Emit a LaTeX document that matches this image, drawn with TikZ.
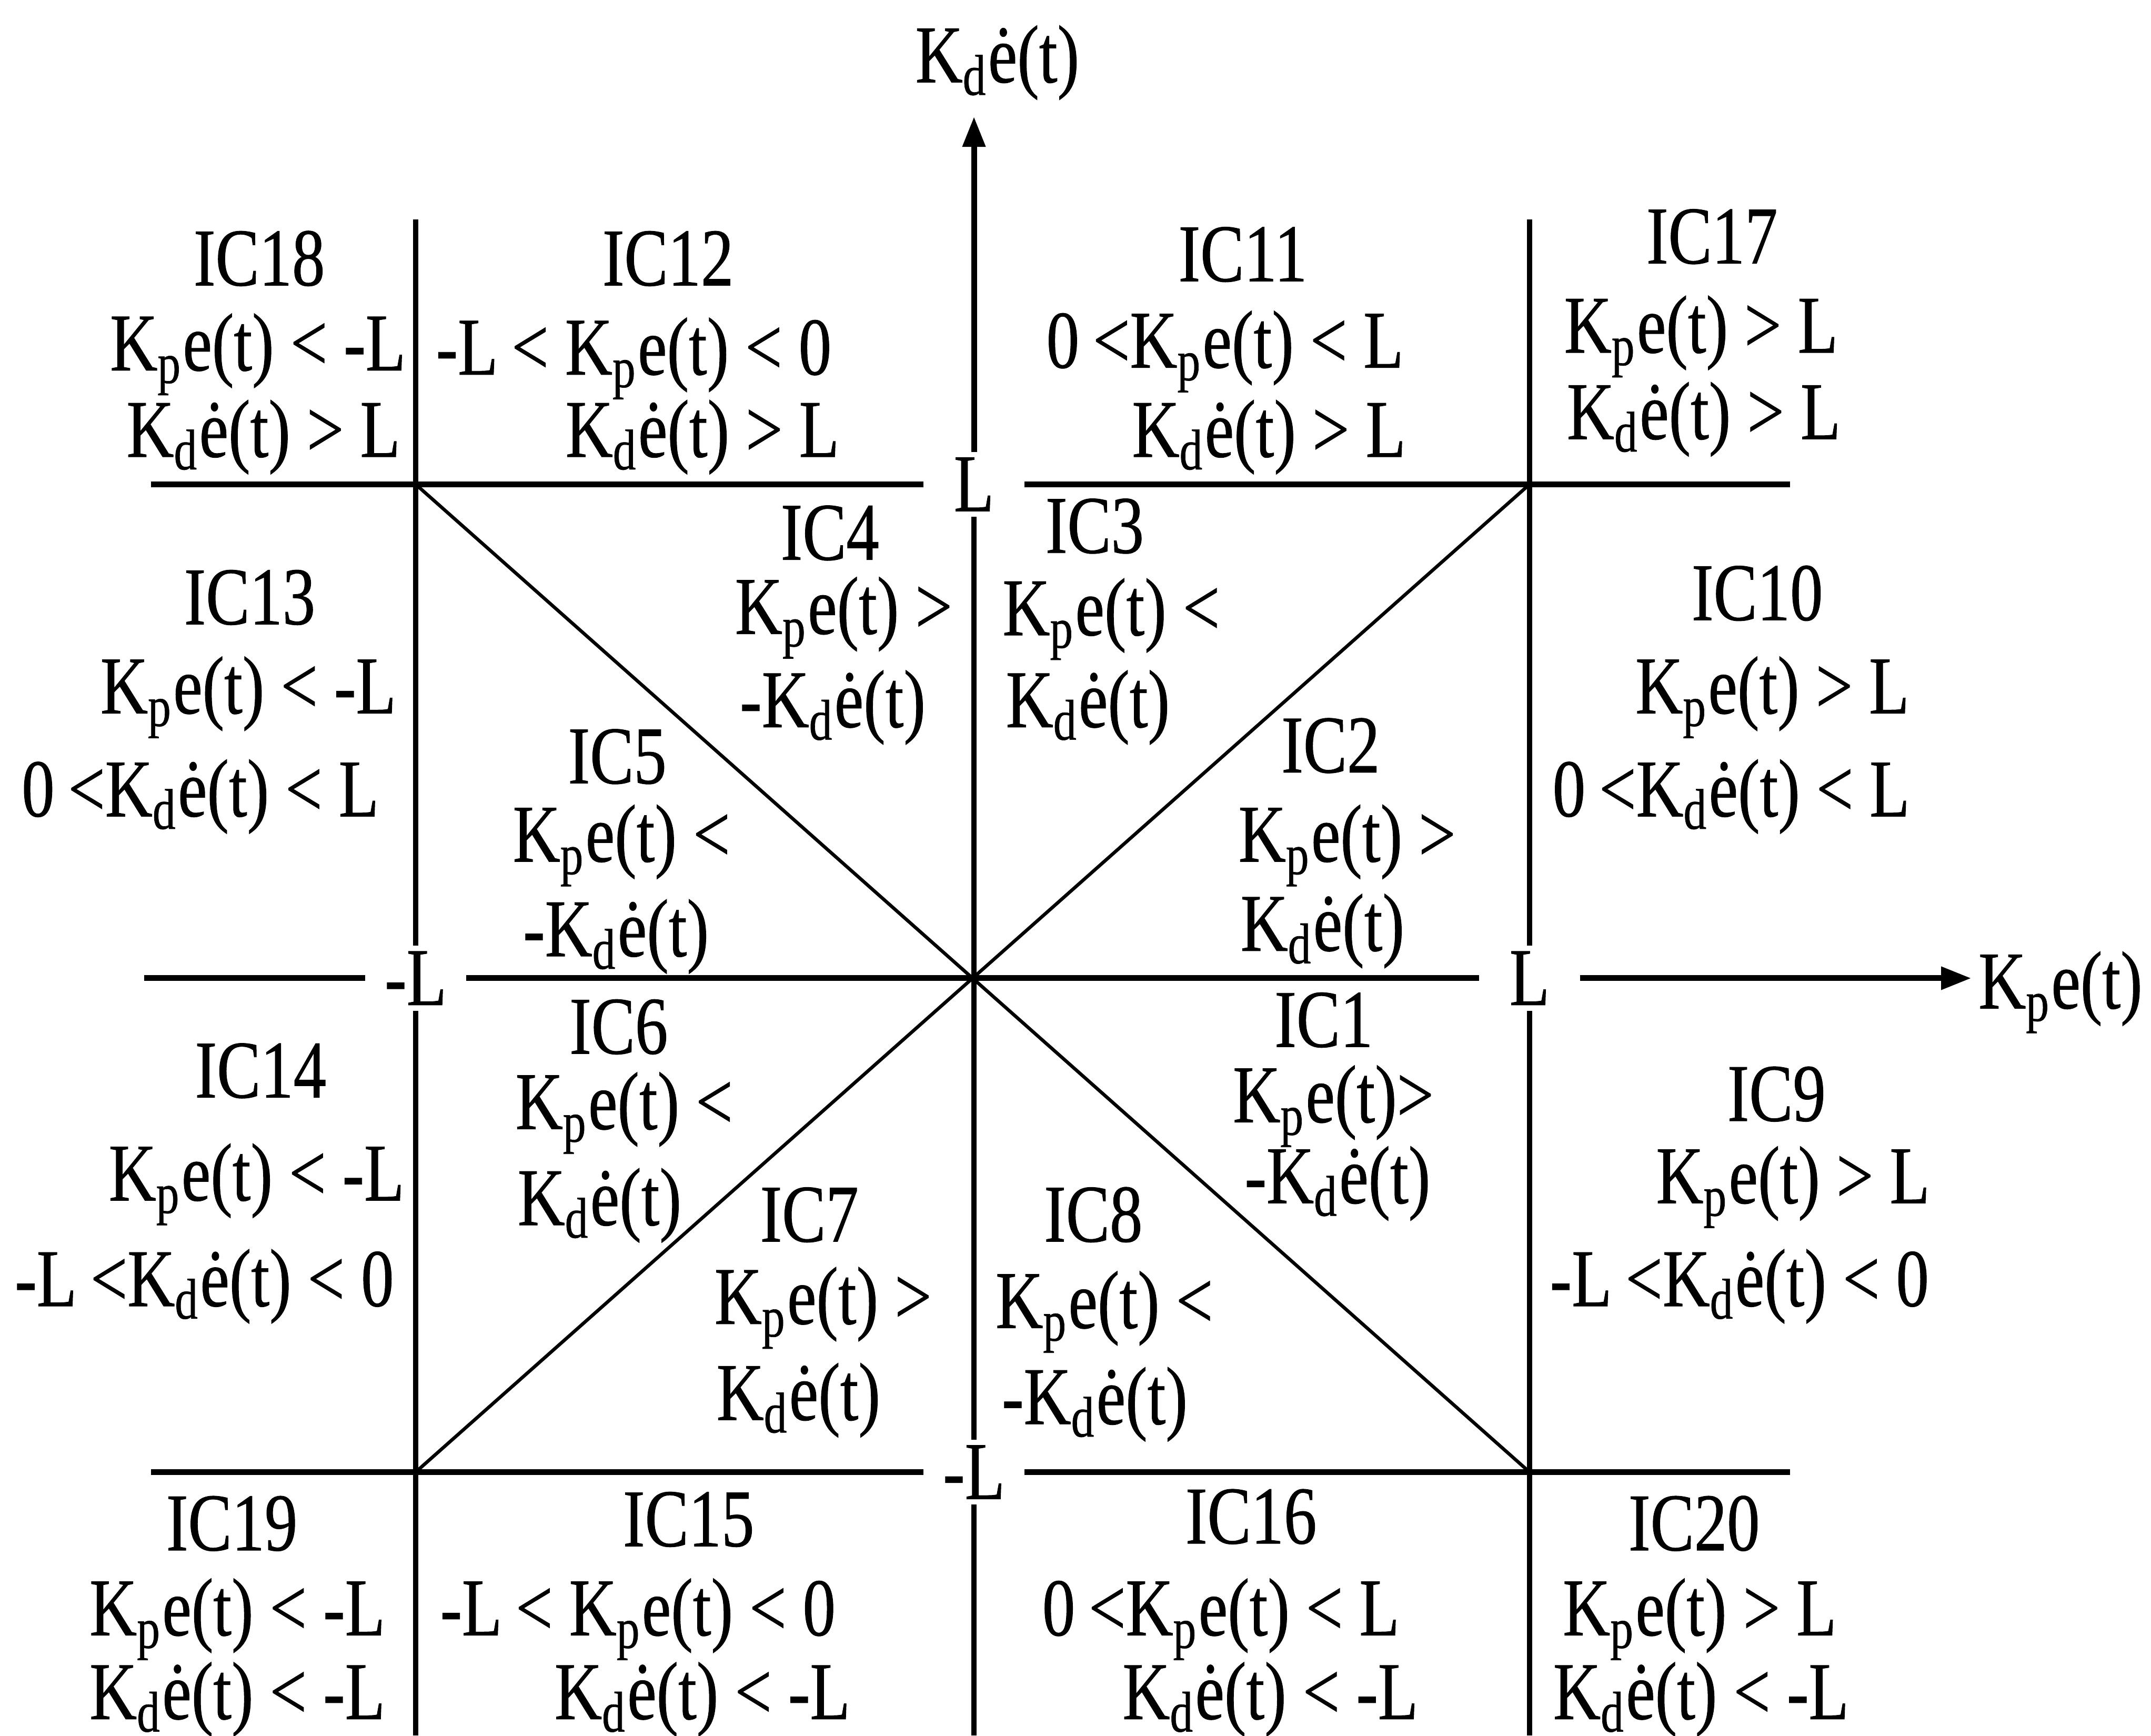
\documentclass[tikz,border=0pt]{standalone}
\usepackage{fontspec}
\setmainfont{Liberation Serif}[FakeStretch=0.8,FakeBold=0.6]
\usetikzlibrary{arrows.meta}
\newcommand\KPe{K\textsubscript{p}e(t)}
\newcommand\KDe{K\textsubscript{d}ė(t)}
\begin{document}
\begin{tikzpicture}[x=0.01cm,y=-0.01cm,
  txt/.style={anchor=base,inner sep=0pt,font=\fontsize{17}{19}\selectfont},
  gaplbl/.style={minimum width=0.72cm,minimum height=0.46cm,inner sep=0pt,font=\fontsize{17}{19}\selectfont},
  axisline/.style={line width=1.2pt},
  gridline/.style={line width=1pt},
  diagline/.style={line width=0.7pt},
  arr/.style={-{Triangle[length=0.22cm,width=0.16cm]}}]
\useasboundingbox (0,0) rectangle (1568,1265);
% gap labels
\node[gaplbl] (Lt) at (710,353) {L};
\node[gaplbl] (Lb) at (710,1073) {-L};
\node[gaplbl] (Ll) at (303,713) {-L};
\node[gaplbl] (Lr) at (1115,713) {L};
% free ends
\coordinate (vtop) at (710,85);
\coordinate (vbot) at (710,1265);
\coordinate (hleft) at (105,713);
\coordinate (hright) at (1437,713);
\coordinate (tl) at (110,353);
\coordinate (tr) at (1305,353);
\coordinate (bl) at (110,1073);
\coordinate (br) at (1305,1073);
\coordinate (lt) at (303,160);
\coordinate (lb) at (303,1265);
\coordinate (rt) at (1115,160);
\coordinate (rb) at (1115,1265);
\coordinate (c1) at (303,353);
\coordinate (c2) at (1115,1073);
\coordinate (c3) at (303,1073);
\coordinate (c4) at (1115,353);
% axes labels
\node[txt] (ylab) at (727,60) {\KDe};
\node[txt] (xlab) at (1502,735) {\KPe};
% axes
\draw[axisline,arr] (Lt) -- (vtop);
\draw[gridline] (Lt) -- (Lb);
\draw[gridline] (vbot) -- (Lb);
\draw[axisline] (hleft) -- (Ll);
\draw[axisline] (Ll) -- (Lr);
\draw[axisline,arr] (Lr) -- (hright);
% grid
\draw[axisline] (tl) -- (Lt);
\draw[axisline] (Lt) -- (tr);
\draw[axisline] (bl) -- (Lb);
\draw[axisline] (Lb) -- (br);
\draw[gridline] (lt) -- (Ll);
\draw[gridline] (Ll) -- (lb);
\draw[gridline] (rt) -- (Lr);
\draw[gridline] (Lr) -- (rb);
\draw[diagline] (c1) -- (c2);
\draw[diagline] (c3) -- (c4);
% region texts
\node[txt] (ic18t) at (189,208) {IC18};
\node[txt] (ic18a) at (188,270) {\KPe{} < -L};
\node[txt] (ic18b) at (192,333) {\KDe{} > L};
\node[txt] (ic12t) at (487,208) {IC12};
\node[txt] (ic12a) at (462,273) {-L\,< \KPe{} < 0};
\node[txt] (ic12b) at (512,333) {\KDe{} > L};
\node[txt] (ic11t) at (906,205) {IC11};
\node[txt] (ic11a) at (893,268) {0\,<\KPe{} < L};
\node[txt] (ic11b) at (925,333) {\KDe{} > L};
\node[txt] (ic17t) at (1248,192) {IC17};
\node[txt] (ic17a) at (1240,257) {\KPe{} > L};
\node[txt] (ic17b) at (1242,320) {\KDe{} > L};
\node[txt] (ic13t) at (182,455) {IC13};
\node[txt] (ic13a) at (181,520) {\KPe{} < -L};
\node[txt] (ic13b) at (146,595) {0\,<\KDe{} < L};
\node[txt] (ic4t) at (605,408) {IC4};
\node[txt] (ic4a) at (615,462) {\KPe{} >};
\node[txt] (ic4b) at (607,530) {-\KDe};
\node[txt] (ic3t) at (798,403) {IC3};
\node[txt] (ic3a) at (810,463) {\KPe{} <};
\node[txt] (ic3b) at (793,530) {\KDe};
\node[txt] (ic10t) at (1281,452) {IC10};
\node[txt] (ic10a) at (1292,520) {\KPe{} > L};
\node[txt] (ic10b) at (1262,595) {0\,<\KDe{} < L};
\node[txt] (ic5t) at (450,571) {IC5};
\node[txt] (ic5a) at (453,628) {\KPe{} <};
\node[txt] (ic5b) at (449,697) {-\KDe};
\node[txt] (ic2t) at (970,563) {IC2};
\node[txt] (ic2a) at (982,628) {\KPe{} >};
\node[txt] (ic2b) at (964,693) {\KDe};
\node[txt] (ic6t) at (451,768) {IC6};
\node[txt] (ic6a) at (455,823) {\KPe{} <};
\node[txt] (ic6b) at (437,893) {\KDe};
\node[txt] (ic1t) at (965,763) {IC1};
\node[txt] (ic1a) at (972,818) {\KPe>};
\node[txt] (ic1b) at (975,877) {-\KDe};
\node[txt] (ic14t) at (190,800) {IC14};
\node[txt] (ic14a) at (187,875) {\KPe{} < -L};
\node[txt] (ic14b) at (149,952) {-L\,<\KDe{} < 0};
\node[txt] (ic7t) at (590,905) {IC7};
\node[txt] (ic7a) at (600,965) {\KPe{} >};
\node[txt] (ic7b) at (582,1035) {\KDe};
\node[txt] (ic8t) at (797,905) {IC8};
\node[txt] (ic8a) at (805,968) {\KPe{} <};
\node[txt] (ic8b) at (798,1038) {-\KDe};
\node[txt] (ic9t) at (1295,817) {IC9};
\node[txt] (ic9a) at (1307,877) {\KPe{} > L};
\node[txt] (ic9b) at (1268,952) {-L\,<\KDe{} < 0};
\node[txt] (ic19t) at (169,1130) {IC19};
\node[txt] (ic19a) at (173,1192) {\KPe{} < -L};
\node[txt] (ic19b) at (173,1253) {\KDe{} < -L};
\node[txt] (ic15t) at (502,1127) {IC15};
\node[txt] (ic15a) at (465,1192) {-L\,< \KPe{} < 0};
\node[txt] (ic15b) at (512,1253) {\KDe{} < -L};
\node[txt] (ic16t) at (912,1125) {IC16};
\node[txt] (ic16a) at (890,1192) {0\,<\KPe{} < L};
\node[txt] (ic16b) at (926,1253) {\KDe{} < -L};
\node[txt] (ic20t) at (1235,1130) {IC20};
\node[txt] (ic20a) at (1239,1192) {\KPe{} > L};
\node[txt] (ic20b) at (1240,1253) {\KDe{} < -L};
\end{tikzpicture}
\end{document}
